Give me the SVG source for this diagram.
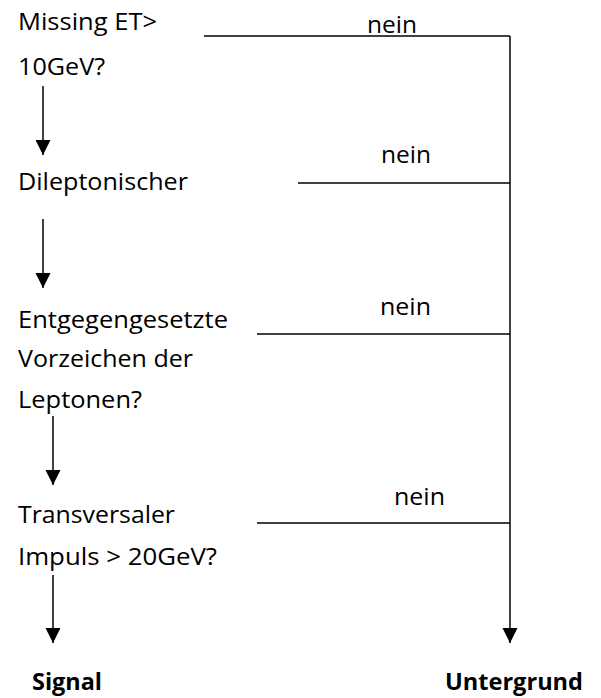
<svg xmlns="http://www.w3.org/2000/svg" width="601" height="698" viewBox="0 0 601 698">
<style>
.t{font-family:"Open Sans","Liberation Sans",sans-serif;font-size:24px;fill:#000}
.b{font-weight:bold}
.n{font-family:"Open Sans","DejaVu Sans",sans-serif;font-size:23px;fill:#000}
.c{stroke:#000;stroke-width:1.5;fill:none}
</style>
<defs>
<marker id="ah" markerUnits="userSpaceOnUse" markerWidth="16" markerHeight="16" refX="15" refY="7.5" orient="auto">
<path d="M0,0 L15,7.5 L0,15 z" fill="#000"/>
</marker>
</defs>
<rect width="601" height="698" fill="#fff"/>
<g id="connectors">
<line class="c" x1="204" y1="36" x2="510" y2="36"/>
<line class="c" x1="298" y1="183" x2="510" y2="183"/>
<line class="c" x1="257" y1="334" x2="510" y2="334"/>
<line class="c" x1="257" y1="523" x2="510" y2="523"/>
<line class="c" x1="510" y1="36" x2="510" y2="643" marker-end="url(#ah)"/>
<line class="c" x1="43" y1="86" x2="43" y2="155" marker-end="url(#ah)"/>
<line class="c" x1="43" y1="219" x2="43" y2="288" marker-end="url(#ah)"/>
<line class="c" x1="53" y1="416" x2="53" y2="485" marker-end="url(#ah)"/>
<line class="c" x1="53" y1="575" x2="53" y2="643" marker-end="url(#ah)"/>
<text class="n" x="367" y="33" textLength="50" lengthAdjust="spacingAndGlyphs">nein</text>
<text class="n" x="381" y="163" textLength="50" lengthAdjust="spacingAndGlyphs">nein</text>
<text class="n" x="380" y="315" textLength="51" lengthAdjust="spacingAndGlyphs">nein</text>
<text class="n" x="394" y="505" textLength="51" lengthAdjust="spacingAndGlyphs">nein</text>
</g>
<g id="missing-et">
<text class="t" x="18" y="30" textLength="139" lengthAdjust="spacingAndGlyphs">Missing ET&gt;</text>
<text class="t" x="18" y="75" textLength="87" lengthAdjust="spacingAndGlyphs">10GeV?</text>
</g>
<g id="dileptonischer">
<text class="t" x="18" y="190" textLength="170" lengthAdjust="spacingAndGlyphs">Dileptonischer</text>
</g>
<g id="vorzeichen">
<text class="t" x="18" y="328" textLength="210" lengthAdjust="spacingAndGlyphs">Entgegengesetzte</text>
<text class="t" x="18" y="367" textLength="175" lengthAdjust="spacingAndGlyphs">Vorzeichen der</text>
<text class="t" x="18" y="408" textLength="124" lengthAdjust="spacingAndGlyphs">Leptonen?</text>
</g>
<g id="impuls">
<text class="t" x="18" y="523" textLength="157" lengthAdjust="spacingAndGlyphs">Transversaler</text>
<text class="t" x="18" y="565" textLength="199" lengthAdjust="spacingAndGlyphs">Impuls &gt; 20GeV?</text>
</g>
<g id="signal">
<text class="t b" x="32" y="690" textLength="70" lengthAdjust="spacingAndGlyphs">Signal</text>
</g>
<g id="untergrund">
<text class="t b" x="445" y="690" textLength="138" lengthAdjust="spacingAndGlyphs">Untergrund</text>
</g>
</svg>
